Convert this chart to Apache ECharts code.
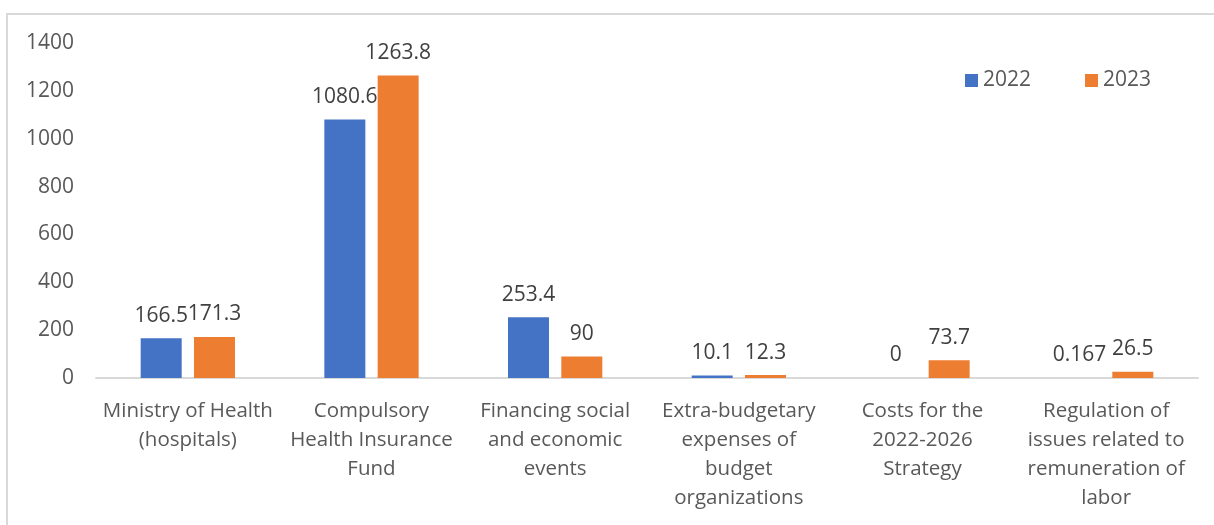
<!DOCTYPE html>
<html><head><meta charset="utf-8">
<script src="https://cdn.jsdelivr.net/npm/echarts@6/dist/echarts.min.js"></script>
<style>html,body{margin:0;padding:0;background:#fff}#c{width:1214px;height:525px}</style>
</head><body><div id="c"></div>
<script>
const categories = [
  "Ministry of Health\n(hospitals)",
  "Compulsory\nHealth Insurance\nFund",
  "Financing social\nand economic\nevents",
  "Extra-budgetary\nexpenses of\nbudget\norganizations",
  "Costs for the\n2022-2026\nStrategy",
  "Regulation of\nissues related to\nremuneration of\nlabor"
];
const values2022 = [166.5, 1080.6, 253.4, 10.1, 0, 0.167];
const values2023 = [171.3, 1263.8, 90, 12.3, 73.7, 26.5];
const seriesNames = ["2022", "2023"];
const yTicks = {min: 0, max: 1400, interval: 200};

const FONT = "Open Sans";
const chart = echarts.init(document.getElementById('c'), null, {renderer: 'canvas'});
const lbl = {show: true, position: 'top', distance: 12, color: '#404040', fontSize: 21, fontFamily: FONT};
chart.setOption({
  animation: false,
  graphic: [{type: 'rect', shape: {x: 7, y: 14, width: 1300, height: 700},
    style: {fill: 'none', stroke: '#d9d9d9', lineWidth: 2}, silent: true}],
  legend: {
    top: 65, left: 960, itemWidth: 13, itemHeight: 13, itemGap: 54, icon: 'rect',
    textStyle: {color: '#595959', fontSize: 21, fontFamily: FONT, padding: [0,0,0,0]},
    data: seriesNames
  },
  grid: {left: 96, right: 16, top: 43, bottom: 147, containLabel: false},
  xAxis: {
    type: 'category', data: categories,
    axisLine: {lineStyle: {color: '#d9d9d9', width: 2}},
    axisTick: {show: false},
    axisLabel: {color: '#595959', fontSize: 20.5, fontFamily: FONT, lineHeight: 29, margin: 19, interval: 0}
  },
  yAxis: {
    type: 'value', min: yTicks.min, max: yTicks.max, interval: yTicks.interval,
    splitLine: {show: false}, axisLine: {show: false}, axisTick: {show: false},
    axisLabel: {color: '#595959', fontSize: 21, fontFamily: FONT, margin: 22,
      formatter: v => String(v)}
  },
  series: [
    {name: seriesNames[0], type: 'bar', data: values2022, itemStyle: {color: '#4472C4'},
     barWidth: 41, barGap: '30%', label: lbl},
    {name: seriesNames[1], type: 'bar', data: values2023, itemStyle: {color: '#ED7D31'},
     barWidth: 41, barGap: '30%', label: lbl}
  ]
});
</script></body></html>
